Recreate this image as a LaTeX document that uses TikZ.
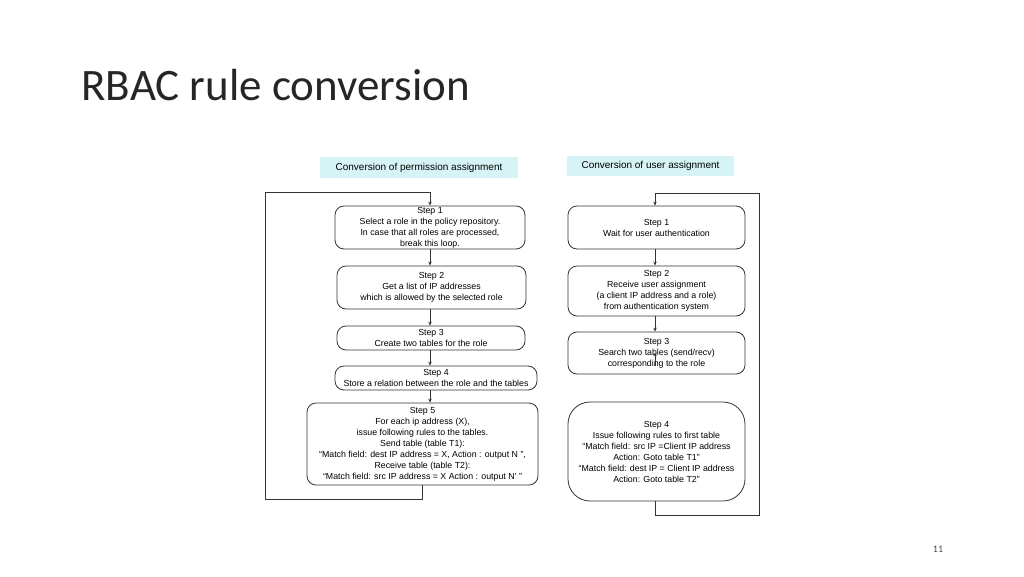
\documentclass[tikz,border=0pt]{standalone}
\usepackage{fontspec}
\setmainfont{Liberation Sans}
\newfontfamily\titlefont{Carlito}
\usetikzlibrary{arrows.meta}
\definecolor{banner}{HTML}{D6F4F6}
\tikzset{
 stepbox/.style={draw=black!80, line width=0.8pt, rounded corners=9pt, align=center, inner sep=0pt, font=\fontsize{8.8}{11}\selectfont},
 ban/.style={fill=banner, inner sep=0pt, font=\fontsize{10}{12}\selectfont},
 conn/.style={draw=black!80, line width=0.8pt, -{Stealth[length=4pt,width=3.5pt]}},
}
\begin{document}
\begin{tikzpicture}[x=1pt,y=-1pt]
\useasboundingbox (0,0) rectangle (1024,576);
\node[anchor=base west, font=\titlefont\fontsize{45}{50}\selectfont, text=black!85] (title) at (78,100) {RBAC rule conversion};
\node[font=\titlefont\fontsize{10}{12}\selectfont, text=black!70] (pg) at (938,549) {11};
% left
\node[ban, minimum width=198pt, minimum height=21pt] (lb) at (419,167.5) {Conversion of permission assignment};
\node[stepbox, minimum width=190pt, minimum height=43pt] (l1) at (430,227.5) {Step 1\\Select a role in the policy repository.\\In case that all roles are processed,\\break this loop.};
\node[stepbox, minimum width=189pt, minimum height=43pt] (l2) at (431.5,287.5) {Step 2\\Get a list of IP addresses\\which is allowed by the selected role};
\node[stepbox, minimum width=188pt, minimum height=24pt] (l3) at (431,338) {Step 3\\Create two tables for the role};
\node[stepbox, minimum width=202pt, minimum height=24pt] (l4) at (436,378) {Step 4\\Store a relation between the role and the tables};
\node[stepbox, minimum width=231pt, minimum height=82pt] (l5) at (422.5,444) {Step 5\\For each ip address (X),\\issue following rules to the tables.\\Send table (table T1):\\``Match field: dest IP address = X, Action : output N '',\\Receive table (table T2):\\``Match field: src IP address = X Action : output N' ''};
\coordinate (lx) at (430,0);
\draw[conn] (l1.south -| lx) -- (l2.north -| lx);
\draw[conn] (l2.south -| lx) -- (l3.north -| lx);
\draw[conn] (l3.south -| lx) -- (l4.north -| lx);
\draw[conn] (l4.south -| lx) -- (l5.north -| lx);
\draw[conn] (l5.south) -- ++(0,14) -| (265,192) -| (l1.north -| lx);
% right
\node[ban, minimum width=167pt, minimum height=20pt] (rb) at (650.5,166) {Conversion of user assignment};
\node[stepbox, minimum width=177pt, minimum height=43pt] (r1) at (656.5,227.5) {Step 1\\Wait for user authentication};
\node[stepbox, minimum width=177pt, minimum height=50pt] (r2) at (656.5,291) {Step 2\\Receive user assignment\\(a client IP address and a role)\\from authentication system};
\node[stepbox, minimum width=177pt, minimum height=42pt] (r3) at (656.5,353) {Step 3\\Search two tables (send/recv)\\corresponding to the role};
\node[stepbox, rounded corners=22pt, minimum width=177pt, minimum height=99pt] (r4) at (656.5,451.5) {Step 4\\Issue following rules to first table\\``Match field: src IP =Client IP address\\Action: Goto table T1''\\``Match field: dest IP = Client IP address\\Action: Goto table T2''};
\coordinate (rx) at (655,0);
\draw[conn] (r1.south -| rx) -- (r2.north -| rx);
\draw[conn] (r2.south -| rx) -- (r3.north -| rx);
\coordinate (r3a) at ([yshift=8pt]r3.south -| rx);
\coordinate (r3b) at ([yshift=22pt]r3.south -| rx);
\draw[conn] (r3a) -- (r3b);
\draw[conn] (r4.south -| rx) -- ++(0,14) -| (759,193) -| (r1.north -| rx);
\end{tikzpicture}
\end{document}
